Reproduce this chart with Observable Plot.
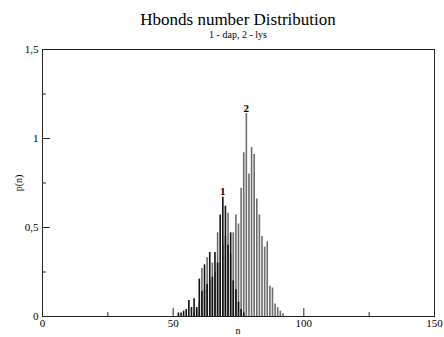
<!DOCTYPE html>
<html>
<head>
<meta charset="utf-8">
<script src="https://cdn.jsdelivr.net/npm/d3@7"></script>
<script src="https://cdn.jsdelivr.net/npm/@observablehq/plot@0.6"></script>
<style>
  html, body { margin: 0; padding: 0; background: #fff; }
  #wrap { position: relative; width: 444px; height: 337px; font-family: "Liberation Serif", "DejaVu Serif", serif; }
  .t { position: absolute; white-space: nowrap; color: #000; }
  svg text { font-family: "Liberation Serif", "DejaVu Serif", serif; }
</style>
</head>
<body>
<div id="wrap">
  <div class="t" id="title" style="left:238px; top:10px; transform:translateX(-50%); font-size:17px;">Hbonds number Distribution</div>
  <div class="t" id="subtitle" style="left:238px; top:29px; transform:translateX(-50%); font-size:10px;">1 - dap, 2 - lys</div>
  <div class="t" id="ylabel" style="left:18px; top:183px; transform:translate(-50%,-50%) rotate(-90deg); font-size:10px;">p(n)</div>
  <div class="t" id="xlabel" style="left:238px; top:325px; transform:translateX(-50%); font-size:10px;">n</div>
</div>
<script>
// Series 1 (dap)
const n1 = [52,53,54,55,56,57,58,59,60,61,62,63,64,65,66,67,68,69,70,71,72,73,74,75,76,77];
const p1 = [0.02,0.02,0.03,0.04,0.09,0.05,0.10,0.05,0.21,0.14,0.29,0.18,0.36,0.22,0.36,0.30,0.57,0.67,0.62,0.40,0.47,0.20,0.15,0.08,0.04,0.02];
// Series 2 (lys)
const n2 = [58,59,60,61,62,63,64,65,66,67,68,69,70,71,72,73,74,75,76,77,78,79,80,81,82,83,84,85,86,87,88,89,90,91,92];
const p2 = [0.02,0.04,0.08,0.27,0.15,0.33,0.20,0.30,0.25,0.47,0.30,0.40,0.45,0.58,0.35,0.47,0.57,0.52,0.72,0.92,1.14,0.80,0.95,0.91,0.66,0.57,0.45,0.39,0.42,0.17,0.16,0.07,0.05,0.03,0.015];
// Ticks
const xMajor = [0,50,100,150];
const xMinor = [25,75,125];
const yMajor = [0,0.5,1,1.5];
const yMinor = [0.25,0.75,1.25];
const yTickLabels = ["0","0,5","1","1,5"];
const setLabels = ["1","2"];

const s1 = n1.map((n,i)=>({n, p:p1[i]}));
const s2 = n2.map((n,i)=>({n, p:p2[i]}));
const peak1 = s1.reduce((a,b)=>b.p>a.p?b:a);
const peak2 = s2.reduce((a,b)=>b.p>a.p?b:a);
const peaks = [{...peak1, label:setLabels[0]},{...peak2, label:setLabels[1]}];
const serif = "'Liberation Serif', 'DejaVu Serif', serif";

const chart = Plot.plot({
  width: 444,
  height: 337,
  marginLeft: 42,
  marginRight: 10,
  marginTop: 49,
  marginBottom: 21,
  style: {fontFamily: serif, fontSize: "10px", background: "transparent", color: "#000"},
  x: {domain: [0,150], axis: null},
  y: {domain: [0,1.5], axis: null},
  marks: [
    Plot.ruleX(s2, {x: "n", y1: 0, y2: "p", stroke: "#6c6c6c", strokeWidth: 1.6}),
    Plot.ruleX(s1, {x: "n", y1: 0, y2: "p", stroke: "#111", strokeWidth: 1.6}),
    Plot.frame({stroke: "#222", strokeWidth: 1}),
    // inward ticks
    Plot.ruleY(yMajor, {y: d=>d, x1: 0, x2: 3, stroke: "#222"}),
    Plot.ruleY(yMinor, {y: d=>d, x1: 0, x2: 1.5, stroke: "#222"}),
    Plot.ruleX(xMajor, {x: d=>d, y1: 0, y2: 0.045, stroke: "#222"}),
    Plot.ruleX(xMinor, {x: d=>d, y1: 0, y2: 0.022, stroke: "#222"}),
    Plot.axisY(yMajor, {tickSize: 0, tickPadding: 4, tickFormat: (d,i)=>yTickLabels[i], fontSize: 11, fontFamily: serif, label: null}),
    Plot.axisX(xMajor, {tickSize: 0, tickPadding: 3, fontSize: 11, fontFamily: serif, label: null}),
    Plot.text(peaks, {x: "n", y: "p", text: "label", dy: -2, lineAnchor: "bottom", fontSize: 11, fontWeight: "bold", fontFamily: serif})
  ]
});
chart.style.position = "absolute";
chart.style.left = "0";
chart.style.top = "0";
document.getElementById("wrap").prepend(chart);
</script>
</body>
</html>
